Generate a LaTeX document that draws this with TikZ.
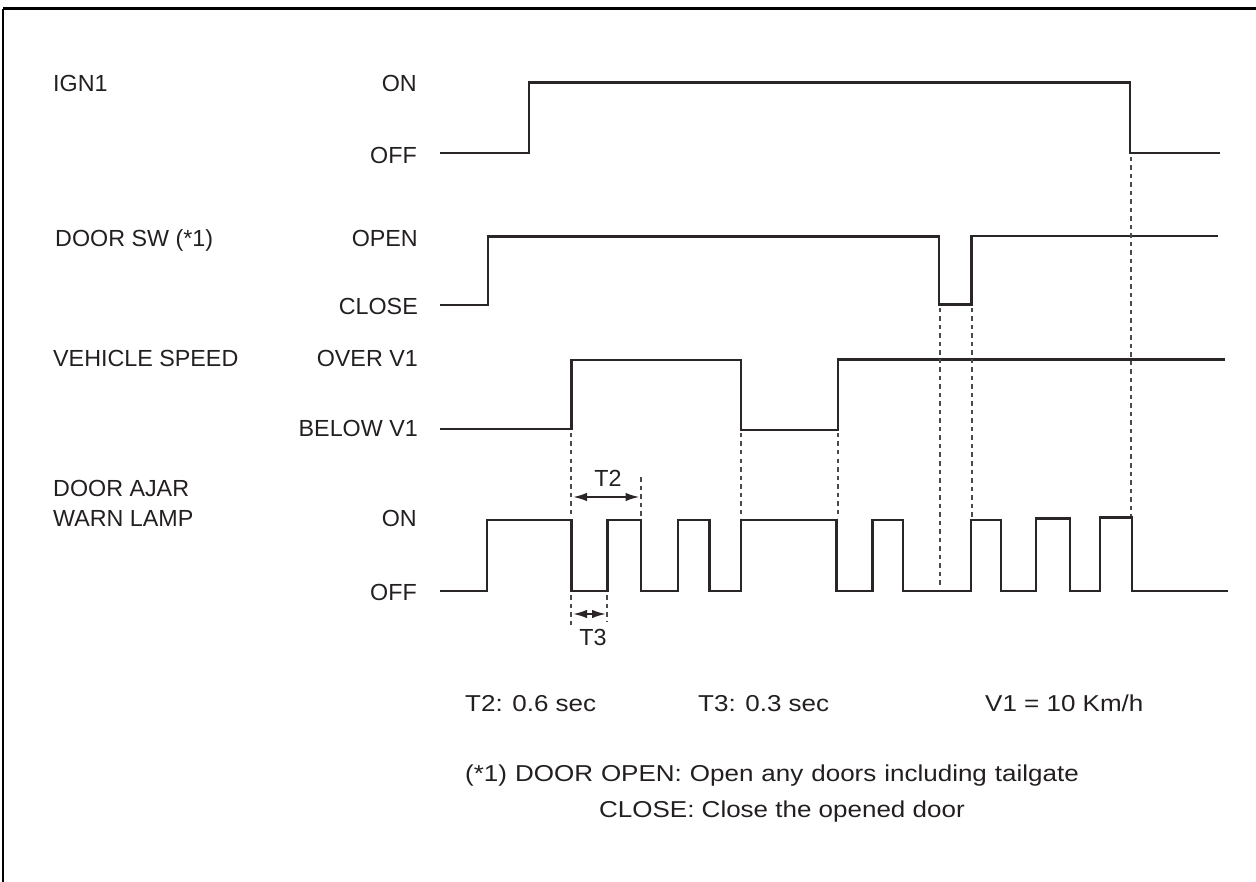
\documentclass[tikz,border=0pt]{standalone}
\usepackage{fontspec}
\setmainfont{Liberation Sans}
\newfontfamily\widefont{Liberation Sans}[FakeStretch=1.13]
\usetikzlibrary{arrows.meta}
\definecolor{sigc}{HTML}{2A2526}
\definecolor{txtc}{HTML}{231F20}
\definecolor{guidec}{HTML}{4A4A4A}
\begin{document}
\begin{tikzpicture}[x=1pt,y=-1pt,
  sig/.style={line width=2.6pt, draw=sigc, line join=miter},
  guide/.style={line width=2pt, draw=guidec, dash pattern=on 4.5pt off 4pt},
  dim/.style={line width=1.8pt, draw=sigc, {Latex[length=14pt,width=8.5pt]}-{Latex[length=14pt,width=8.5pt]}},
  lbl/.style={font=\fontsize{23.3}{30}\selectfont, inner sep=0pt, text=txtc},
  note/.style={font=\widefont\fontsize{23}{30}\selectfont, inner sep=0pt, text=txtc, anchor=base west}]
\useasboundingbox (0,0) rectangle (1256,882);
% frame
\coordinate (fTL) at (3,9);
\coordinate (fTR) at (1256,9);
\coordinate (fBL) at (3,882);
\draw[line width=3pt, draw=black] (fTR) -- (fTL);
\draw[line width=2pt, draw=black] (fTL) -- (fBL);
% signal names
\node[lbl, anchor=base west] (nIGN) at (53,91.5) {IGN1};
\node[lbl, anchor=base west] (nDOOR) at (55,246.5) {DOOR SW (*1)};
\node[lbl, anchor=base west] (nSPD) at (53,366.5) {VEHICLE SPEED};
\node[lbl, anchor=base west, align=left] (nLAMP) at (53,526.5) {DOOR AJAR\\WARN LAMP};
% state labels
\node[lbl, anchor=base east] (sIGNon) at (417,91.5) {ON};
\node[lbl, anchor=base east] (sIGNoff) at (417,163.3) {OFF};
\node[lbl, anchor=base east] (sOPEN) at (418,246.5) {OPEN};
\node[lbl, anchor=base east] (sCLOSE) at (418,315) {CLOSE};
\node[lbl, anchor=base east] (sOVER) at (418,366.5) {OVER V1};
\node[lbl, anchor=base east] (sBELOW) at (418,436.5) {BELOW V1};
\node[lbl, anchor=base east] (sLON) at (417,526.5) {ON};
\node[lbl, anchor=base east] (sLOFF) at (417,600) {OFF};
% IGN1
\draw[sig] (440,153) -- (529,153) -- (529,82.5) -- (1130,82.5) -- (1130,153) -- (1220,153);
% DOOR SW
\draw[sig] (440,305) -- (488,305) -- (488,236.5) -- (939,236.5) -- (939,304.5) -- (971.5,304.5) -- (971.5,236) -- (1218,236);
% VEHICLE SPEED
\draw[sig] (440,429) -- (571.5,429) -- (571.5,360) -- (741,360) -- (741,430) -- (838,430) -- (838,359.5) -- (1225,359.5);
% LAMP
\draw[sig] (440,591) -- (487,591) -- (487,520) -- (571.5,520) -- (571.5,591) -- (607.5,591) -- (607.5,520) -- (641,520) -- (641,591) -- (678,591) -- (678,520) -- (709.5,520) -- (709.5,591) -- (741,591) -- (741,520) -- (836.5,520) -- (836.5,591) -- (872.5,591) -- (872.5,520) -- (903,520) -- (903,591) -- (971,591) -- (971,520) -- (1001,520) -- (1001,591) -- (1036,591) -- (1036,518.5) -- (1070,518.5) -- (1070,591) -- (1100,591) -- (1100,517.5) -- (1132,517.5) -- (1132,591) -- (1228,591);
% guides
\coordinate (g1a) at (1131,157); \coordinate (g1b) at (1131,516);
\coordinate (g2a) at (939.5,308); \coordinate (g2b) at (939.5,588);
\coordinate (g3a) at (971.5,308); \coordinate (g3b) at (971.5,518);
\coordinate (g4a) at (838,433); \coordinate (g4b) at (838,518);
\coordinate (g5a) at (741,433); \coordinate (g5b) at (741,518);
\coordinate (g6a) at (571,433); \coordinate (g6b) at (571,517);
\coordinate (g6c) at (571,595); \coordinate (g6d) at (571,628);
\coordinate (g7a) at (640.5,477); \coordinate (g7b) at (640.5,517);
\coordinate (g8a) at (607,595); \coordinate (g8b) at (607,621);
\foreach \a/\b in {g1a/g1b,g2a/g2b,g3a/g3b,g4a/g4b,g5a/g5b,g6a/g6b,g6c/g6d,g7a/g7b,g8a/g8b}
  \draw[guide] (\a) -- (\b);
% dimensions
\coordinate (t2a) at (573,497); \coordinate (t2b) at (639.5,497);
\coordinate (t3a) at (573,614); \coordinate (t3b) at (606,614);
\draw[dim] (t2a) -- (t2b);
\draw[dim] (t3a) -- (t3b);
\node[lbl, anchor=base] (lT2) at (608,486) {T2};
\node[lbl, anchor=base] (lT3) at (593,645) {T3};
% notes
\node[note] (nT2) at (465,711.5) {T2: 0.6 sec};
\node[note] (nT3) at (698,711.5) {T3: 0.3 sec};
\node[note] (nV1) at (985,711.5) {V1 = 10 Km/h};
\node[note] (nN1) at (465,781.5) {\spaceskip=8pt plus 1pt\relax (*1) DOOR OPEN: Open any doors including tailgate};
\node[note] (nN2) at (599,817) {CLOSE: Close the opened door};
\end{tikzpicture}
\end{document}
